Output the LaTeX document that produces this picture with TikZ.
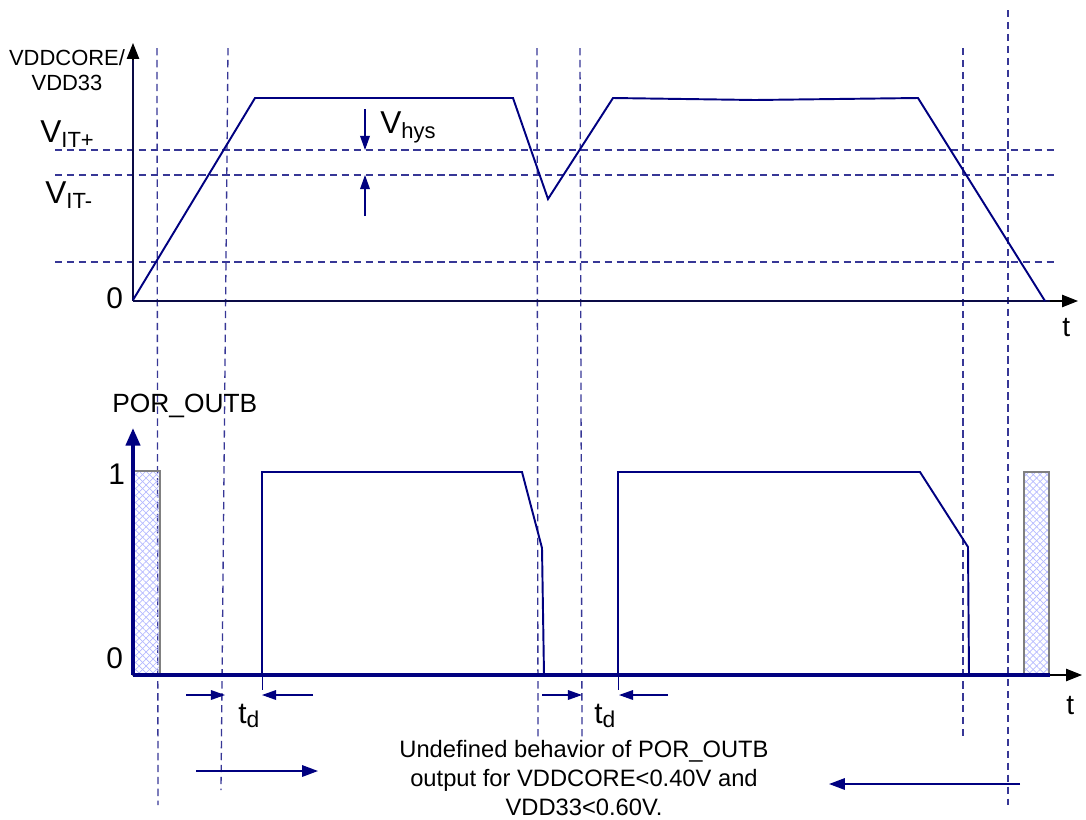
\documentclass[tikz,border=0pt]{standalone}
\usepackage{fontspec}
\setmainfont{Liberation Sans}
\usetikzlibrary{positioning,arrows.meta,patterns.meta}
\definecolor{navyline}{RGB}{0,0,128}
\definecolor{axisdark}{RGB}{10,10,70}
\definecolor{gridblue}{RGB}{55,55,150}
\definecolor{hatchblue}{RGB}{180,185,255}
\newcommand{\fs}[1]{\fontsize{#1}{#1}\selectfont}
\tikzset{
  waveline/.style={navyline, line width=1.1pt, line join=miter},
  gridline/.style={gridblue, line width=0.75pt, dash pattern=on 4.2pt off 2.6pt},
  topaxis/.style={axisdark, line width=1.3pt},
  poraxis/.style={navyline, line width=2.2pt},
  axisarrow/.style={black, line width=0.6pt, -{Triangle[length=9pt,width=7pt]}},
  dimarrow/.style={navyline, line width=0.7pt, -{Triangle[length=8pt,width=5.5pt]}},
  undefbox/.style={draw=gray, line width=0.6pt},
  lbl/.style={inner sep=0pt, anchor=base west}
}
\begin{document}
\begin{tikzpicture}[x=0.02cm, y=-0.02cm]
\useasboundingbox (0,0) rectangle (1086,819);

% thresholds
\foreach \yy in {150,175,262}
  \draw[gridline] (55,\yy) -- (1055,\yy);

% time markers
\draw[gridline] (157,48) -- (158,805);
\draw[gridline] (228,48) -- (221,790);
\draw[gridline] (537,48) -- (538,737);
\draw[gridline] (580,48) -- (582,737);
\draw[gridline] (963,48) -- (963,737);
\draw[gridline] (1008,10) -- (1008,805);

% supply voltage
\draw[axisarrow] (133,300) -- (133,43);
\draw[axisarrow] (133,301) -- (1078,301);
\draw[topaxis] (133,301) -- (133,60);
\draw[topaxis] (133,301) -- (1050,301);
\draw[waveline] (133,300) -- (255,98) -- (513,98) -- (548,199) -- (613,98)
  -- (755,100) -- (918,98) -- (1045,301);

\node[align=center, inner sep=0pt, font=\fs{12.5}] (supply) at (67,70) {VDDCORE/\\[2pt]VDD33};
\node[lbl] (vitp) at (40,142) {\fs{18}V\raisebox{-3pt}{\fs{12.5}IT+}};
\node[lbl] (vitm) at (45,203) {\fs{18}V\raisebox{-3pt}{\fs{12.5}IT-}};
\node[lbl] (zerotop) at (106,308) {\fs{17}0};
\node[lbl] (ttop) at (1062,336) {\fs{16}t};

% hysteresis
\draw[dimarrow] (365,109) -- (365,150);
\draw[dimarrow] (365,216) -- (365,175);
\node[lbl] (vhys) at (380,133) {\fs{18}V\raisebox{-3pt}{\fs{12.5}hys}};

% POR_OUTB
\path[pattern={Lines[angle=45,distance=2.8pt,line width=0.4pt]}, pattern color=hatchblue]
  (133,471) rectangle (160,675);
\path[pattern={Lines[angle=-45,distance=2.8pt,line width=0.4pt]}, pattern color=hatchblue]
  (133,471) rectangle (160,675);
\draw[undefbox] (133,471) rectangle (160,675);
\path[pattern={Lines[angle=45,distance=2.8pt,line width=0.4pt]}, pattern color=hatchblue]
  (1024,472) rectangle (1049,675);
\path[pattern={Lines[angle=-45,distance=2.8pt,line width=0.4pt]}, pattern color=hatchblue]
  (1024,472) rectangle (1049,675);
\draw[undefbox] (1024,472) rectangle (1049,675);

\draw[axisarrow] (133,675) -- (1082,675);
\draw[poraxis, -{Triangle[length=10pt,width=8pt]}] (133,675) -- (133,428);
\draw[poraxis] (133,675) -- (1050,675);
\draw[waveline] (262,675) -- (262,472) -- (522,472) -- (542,548) -- (544,675);
\draw[waveline] (618,675) -- (618,472) -- (920,472) -- (968,547) -- (969,675);
\draw[navyline, line width=0.5pt] (262,675) -- (262,690);
\draw[navyline, line width=0.5pt] (618,675) -- (618,690);

\node[lbl] (porlbl) at (112,412) {\fs{15}POR\_OUTB};
\node[lbl] (onelbl) at (108,484) {\fs{17}1};
\node[lbl] (zerobot) at (106,668) {\fs{17}0};
\node[lbl] (tbot) at (1066,714) {\fs{16}t};

% delays
\draw[dimarrow] (186,695) -- (225,695);
\draw[dimarrow] (313,695) -- (262,695);
\node[lbl] (tdone) at (238,723) {\fs{17}t\raisebox{-2.5pt}{\fs{13}d}};
\draw[dimarrow] (542,695) -- (582,695);
\draw[dimarrow] (668,695) -- (619,695);
\node[lbl] (tdtwo) at (594,723) {\fs{17}t\raisebox{-2.5pt}{\fs{13}d}};

% undefined region
\node[align=center, anchor=north, inner sep=0pt, font=\fs{13.5}] (undef) at (584,740)
  {Undefined behavior of POR\_OUTB\\[3pt]output for VDDCORE<0.40V and\\[3pt]VDD33<0.60V.};
\draw[dimarrow, line width=0.9pt, -{Triangle[length=9pt,width=6.5pt]}] (196,771) -- (318,771);
\draw[dimarrow, line width=0.9pt, -{Triangle[length=9pt,width=6.5pt]}] (1020,784) -- (829,784);
\end{tikzpicture}
\end{document}
